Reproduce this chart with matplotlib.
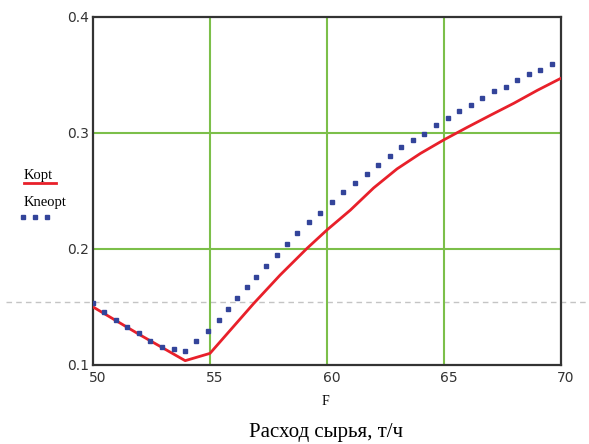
import matplotlib.pyplot as plt
import matplotlib.lines as mlines
import matplotlib.transforms as mtrans

# Kopt (red line)
F_opt = [50, 52, 53.94, 55.0, 56.0, 56.87, 58.0, 59.15, 60.0, 61.0, 62.0, 63.0,
         64.0, 65.0, 66.0, 67.0, 68.0, 69.0, 70.0]
K_opt = [0.150, 0.126, 0.1037, 0.110, 0.133, 0.153, 0.1775, 0.2005, 0.2163, 0.2334,
         0.2526, 0.269, 0.2823, 0.294, 0.3048, 0.3153, 0.3256, 0.3367, 0.347]

# Kneopt (blue dots)
F_neopt = [50.01, 50.47, 50.97, 51.46, 51.96, 52.45, 52.96, 53.44, 53.93, 54.42,
           54.93, 55.37, 55.76, 56.15, 56.58, 56.98, 57.41, 57.85, 58.28, 58.73,
           59.22, 59.72, 60.21, 60.71, 61.21, 61.70, 62.19, 62.69, 63.18, 63.67,
           64.16, 64.66, 65.16, 65.66, 66.16, 66.65, 67.14, 67.64, 68.14, 68.63,
           69.13, 69.61]
K_neopt = [0.1531, 0.1459, 0.1388, 0.1325, 0.1273, 0.1209, 0.1158, 0.1138, 0.1123, 0.1209,
           0.1293, 0.1388, 0.1481, 0.1574, 0.1668, 0.1761, 0.1855, 0.1947, 0.2045, 0.2139,
           0.2230, 0.2314, 0.2408, 0.2490, 0.2565, 0.2648, 0.2720, 0.2803, 0.2878, 0.2938,
           0.2992, 0.3065, 0.3127, 0.3190, 0.3242, 0.3302, 0.3357, 0.3397, 0.3452, 0.3504,
           0.3543, 0.3590]

xticks = [50, 55, 60, 65, 70]
yticks = [0.1, 0.2, 0.3, 0.4]

fig = plt.figure(figsize=(5.89, 4.44), dpi=100)
ax = fig.add_axes([0.158, 0.178, 0.794, 0.784])
ax.set_facecolor('none')

green = '#7cbf4a'
for x in xticks[1:-1]:
    ax.axvline(x, color=green, lw=1.5, zorder=1)
for y in yticks[1:-1]:
    ax.axhline(y, color=green, lw=1.5, zorder=1)

ax.plot(F_opt, K_opt, color='#e8202a', lw=2, zorder=3)
ax.plot(F_neopt, K_neopt, ls='none', marker='s', ms=3.1, color='#33449a', zorder=4)

ax.set_xlim(50, 70)
ax.set_ylim(0.1, 0.4)
ax.set_xticks(xticks)
ax.set_yticks(yticks)
ax.set_xticklabels([str(x) for x in xticks])
ax.set_yticklabels(['0.1', '0.2', '0.3', '0.4'])
ax.tick_params(length=0, labelsize=10, labelcolor='#333333', pad=3)
ax.tick_params(axis='x', pad=4)
for lab in ax.get_xticklabels():
    lab.set_horizontalalignment('left')
for sp in ax.spines.values():
    sp.set_color('#333333')
    sp.set_linewidth(1.6)

# x labels start a little left of the tick, as in the reference
offset = mtrans.ScaledTranslation(-4 / 100, 0, fig.dpi_scale_trans)
for lab in ax.get_xticklabels():
    lab.set_transform(lab.get_transform() + offset)

# light dashed line across the whole page (also through the plot)
fig.add_artist(mlines.Line2D([0.01, 1.0], [0.32, 0.32], color='#c4c4c4', lw=1,
                             ls=(0, (4, 3)), transform=fig.transFigure, zorder=-1))

# legend at left
fig.text(0.04, 0.605, 'Kopt', fontfamily='Liberation Serif', fontsize=10.5, va='center')
fig.add_artist(mlines.Line2D([0.04, 0.095], [0.587, 0.587], color='#e8202a', lw=2,
                             transform=fig.transFigure))
fig.text(0.04, 0.543, 'Kneopt', fontfamily='Liberation Serif', fontsize=10.5, va='center')
fig.add_artist(mlines.Line2D([0.039, 0.059, 0.079], [0.512, 0.512, 0.512], ls='none',
                             marker='s', ms=3.1, color='#33449a', transform=fig.transFigure))

fig.text(0.553, 0.095, 'F', fontfamily='Liberation Serif', fontsize=10, ha='center', va='center')
fig.text(0.553, 0.027, 'Расход сырья, т/ч', fontfamily='Liberation Serif', fontsize=15,
         ha='center', va='center')

fig.savefig('out.png', dpi=100)
